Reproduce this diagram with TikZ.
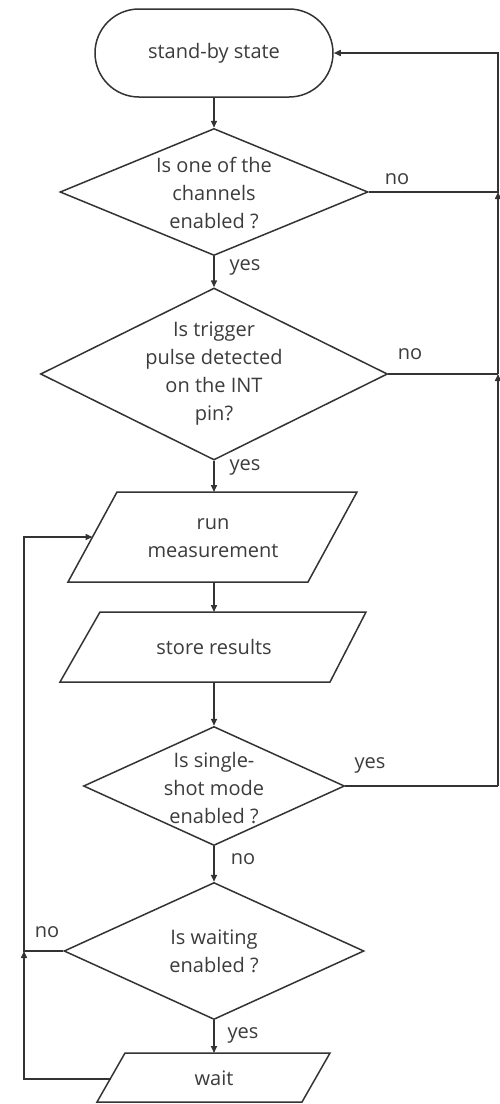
\documentclass[tikz,border=0pt]{standalone}
\usepackage{fontspec}
\setmainfont{Open Sans}
\usetikzlibrary{shapes.geometric,shapes.misc,arrows.meta}
\definecolor{ln}{HTML}{333333}
\definecolor{tx}{HTML}{3C3C3C}
\begin{document}
\begin{tikzpicture}[x=1pt,y=-1pt,
 line/.style={draw=ln, line width=1.5pt},
 arr/.style={line, -{Triangle[length=7pt,width=6pt]}},
 dec/.style={diamond, line, inner sep=0pt},
 term/.style={rounded rectangle, line, inner sep=0pt},
 txt/.style={font=\fontsize{20}{28}\selectfont, text=tx, align=center, inner sep=0pt},
 lbl/.style={font=\fontsize{20}{22}\selectfont, text=tx, inner sep=0pt},
]
\useasboundingbox (0,0) rectangle (500,1104);
\fill[white] (0,0) rectangle (500,1104);

% terminal
\node[term, minimum width=238pt, minimum height=88pt] (sb) at (214,53) {};
\node[txt] (sbt) at (214,53) {stand-by state};

% decisions
\node[dec, minimum width=308pt, minimum height=127pt] (d1) at (214,192) {};
\node[txt] (d1t) at (214,193) {Is one of the\\channels\\enabled ?};
\node[dec, minimum width=347pt, minimum height=172pt] (d2) at (214,374) {};
\node[txt] (d2t) at (214,374) {Is trigger\\pulse detected\\on the INT\\pin?};
\node[dec, minimum width=261pt, minimum height=119pt] (d3) at (214,786) {};
\node[txt] (d3t) at (214,788) {Is single-\\shot mode\\enabled ?};
\node[dec, minimum width=300pt, minimum height=137pt] (d4) at (214,951) {};
\node[txt] (d4t) at (214,951) {Is waiting\\enabled ?};

% parallelograms
\draw[line] (117,492) -- (357,492) -- (308,582) -- (68,582) -- cycle;
\node[txt] (rm) at (213,538) {run\\measurement};
\coordinate (rmT) at (214,492);
\coordinate (rmB) at (214,582);
\coordinate (rmL) at (92.5,537);

\draw[line] (100,612) -- (366,612) -- (330,682) -- (60,682) -- cycle;
\node[txt] (sr) at (214,647) {store results};
\coordinate (srT) at (214,612);
\coordinate (srB) at (214,682);

\draw[line] (125,1053) -- (330,1053) -- (302,1102) -- (97,1102) -- cycle;
\node[txt] (wt) at (214,1078) {wait};
\coordinate (wT) at (214,1053);
\coordinate (wL) at (110.5,1079);

% junction coordinates
\coordinate (R1) at (498,192);
\coordinate (R2) at (498,374);
\coordinate (R3) at (498,786);
\coordinate (L4) at (24,951);

% main flow
\draw[arr] (sb.south) -- (d1.north);
\draw[arr] (d1.south) -- (d2.north);
\draw[arr] (d2.south) -- (rmT);
\draw[arr] (rmB) -- (srT);
\draw[arr] (srB) -- (d3.north);
\draw[arr] (d3.south) -- (d4.north);
\draw[arr] (d4.south) -- (wT);

% returns on the right
\draw[arr] (d1.east) -- (R1) |- (sb.east);
\draw[line] (d2.east) -- (R2);
\draw[arr] (R2) -- (R1);
\draw[line] (d3.east) -- (R3);
\draw[arr] (R3) -- (R2);

% returns on the left
\draw[arr] (d4.west) -- (L4) |- (rmL);
\draw[arr] (wL) -| (L4);

% labels
\node[lbl] (l1) at (397,179) {no};
\node[lbl] (l2) at (245,267) {yes};
\node[lbl] (l3) at (410,354) {no};
\node[lbl] (l4) at (245,467) {yes};
\node[lbl] (l5) at (370,765) {yes};
\node[lbl] (l6) at (243,859) {no};
\node[lbl] (l7) at (47,932) {no};
\node[lbl] (l8) at (243,1035) {yes};
\end{tikzpicture}
\end{document}
